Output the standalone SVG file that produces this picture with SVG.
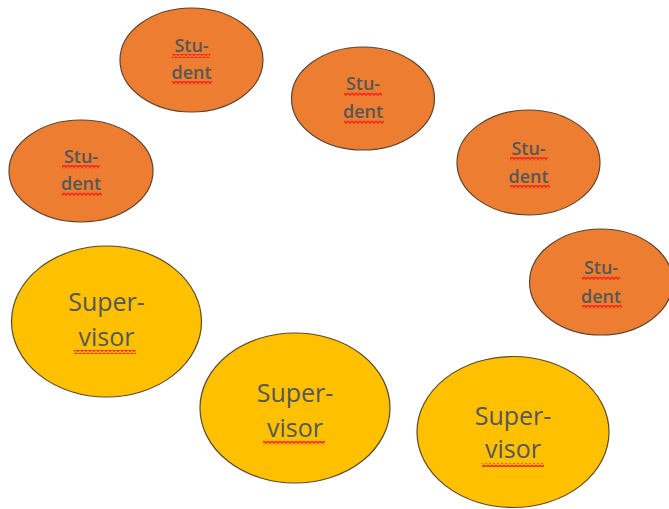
<svg xmlns="http://www.w3.org/2000/svg" width="669" height="509" viewBox="0 0 669 509">
<defs>
<pattern id="sq" width="4" height="4" patternUnits="userSpaceOnUse">
<path d="M0,1 L2,3 L4,1" fill="none" stroke="#f52a1c" stroke-width="1.6"/>
</pattern>
<style>
.stu{fill:#ED7D31;stroke:#5a4530;stroke-width:1.2}
.sup{fill:#FFC000;stroke:#5a4a2a;stroke-width:1.2}
.t{font-family:"Open Sans","Noto Sans",sans-serif;fill:#575757;text-anchor:middle}
.ts{font-size:18px;font-weight:600}
.tp{font-size:25px}
.wv{fill:url(#sq)}
</style>
</defs>
<rect width="669" height="509" fill="#ffffff"/>
<g id="connectors"></g>
<g id="student1">
<ellipse class="stu" cx="191.5" cy="60" rx="71.5" ry="52"/>
<text class="t ts" x="191.5" y="52">Stu-</text>
<text class="t ts" x="191.5" y="79">dent</text>
<rect class="wv" x="172" y="54" width="38" height="4"/>
<rect class="wv" x="172" y="81" width="40" height="4"/>
</g>
<g id="student2">
<ellipse class="stu" cx="363" cy="98.5" rx="71.5" ry="51.5"/>
<text class="t ts" x="363" y="90">Stu-</text>
<text class="t ts" x="363" y="118">dent</text>
<rect class="wv" x="344" y="92" width="38" height="4"/>
<rect class="wv" x="344" y="120" width="40" height="4"/>
</g>
<g id="student3">
<ellipse class="stu" cx="81" cy="171" rx="72" ry="51"/>
<text class="t ts" x="81" y="163">Stu-</text>
<text class="t ts" x="81" y="190">dent</text>
<rect class="wv" x="62" y="165" width="38" height="4"/>
<rect class="wv" x="62" y="192" width="40" height="4"/>
</g>
<g id="student4">
<ellipse class="stu" cx="528.5" cy="162.5" rx="71.5" ry="52.5"/>
<text class="t ts" x="528.5" y="155">Stu-</text>
<text class="t ts" x="528.5" y="183">dent</text>
<rect class="wv" x="510" y="157" width="38" height="4"/>
<rect class="wv" x="510" y="185" width="40" height="4"/>
</g>
<g id="student5">
<ellipse class="stu" cx="601" cy="282" rx="71.5" ry="53"/>
<text class="t ts" x="601" y="274">Stu-</text>
<text class="t ts" x="601" y="303">dent</text>
<rect class="wv" x="582" y="276" width="38" height="4"/>
<rect class="wv" x="582" y="305" width="40" height="4"/>
</g>
<g id="supervisor1">
<ellipse class="sup" cx="106.5" cy="321.5" rx="95" ry="75.5"/>
<text class="t tp" x="106.5" y="311">Super-</text>
<text class="t tp" x="106.5" y="346">visor</text>
<rect class="wv" x="74" y="350" width="62" height="4"/>
</g>
<g id="supervisor2">
<ellipse class="sup" cx="295" cy="408" rx="95" ry="75"/>
<text class="t tp" x="295" y="402">Super-</text>
<text class="t tp" x="295" y="437">visor</text>
<rect class="wv" x="263" y="441" width="62" height="4"/>
</g>
<g id="supervisor3">
<ellipse class="sup" cx="513" cy="432" rx="96" ry="75.5"/>
<text class="t tp" x="513" y="425">Super-</text>
<text class="t tp" x="513" y="458">visor</text>
<rect class="wv" x="482" y="463" width="62" height="4"/>
</g>
</svg>
